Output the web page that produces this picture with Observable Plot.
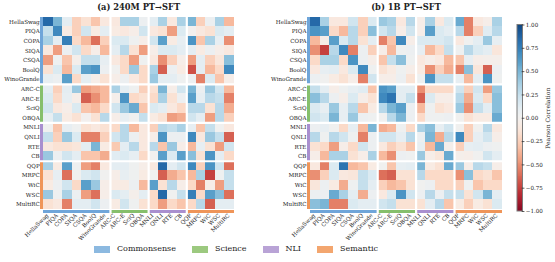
<!DOCTYPE html>
<html><head><meta charset="utf-8">
<script src="https://cdn.jsdelivr.net/npm/d3@7"></script>
<script src="https://cdn.jsdelivr.net/npm/@observablehq/plot@0.6"></script>
<style>
body{margin:0;background:#fff;}
#wrap{position:relative;width:555px;height:262px;overflow:hidden;font-family:"DejaVu Serif",serif;color:#222;}
#wrap svg{position:absolute;left:0;top:0;background:transparent;overflow:visible;}
.ttl{position:absolute;top:2px;font-weight:bold;font-size:8.3px;line-height:10px;transform:translateX(-50%);white-space:nowrap;}
#legend{position:absolute;left:94px;top:244px;display:flex;gap:16px;font-size:8px;line-height:10px;}
#legend .it{display:flex;align-items:center;}
#legend .sw{width:16px;height:7px;margin-right:7px;}
</style></head>
<body><div id="wrap"></div>
<script>
const tasks = ["HellaSwag","PIQA","COPA","SIQA","CSQA","BoolQ","WinoGrande","ARC-C","ARC-E","SciQ","OBQA","MNLI","QNLI","RTE","CB","QQP","MRPC","WiC","WSC","MultiRC"];
const groups = ["Commonsense","Science","NLI","Semantic"];
const taskGroup = [0,0,0,0,0,0,0,1,1,1,1,2,2,2,2,3,3,3,3,3];
const groupColors = ["#8cb9e0","#9cc97f","#b9a3d6","#f3a66f"];
const stripColors = ["#6fa5d9","#86bf6c","#a98fcf","#ef9559"];
const panelTitles = ["(a) 240M PT\u2192SFT","(b) 1B PT\u2192SFT"];
const cbTicks = [1,0.75,0.5,0.25,0,-0.25,-0.5,-0.75,-1];
const cbLabel = "Pearson Correlation";

const corr240M = [
[0.85,0.5,0.1,-0.25,-0.15,-0.3,-0.1,-0.1,0.35,0.35,0.05,0.1,0.35,-0.1,0.35,0.5,-0.25,0.05,0.35,-0.35],
[0.25,0.7,-0.08,-0.25,0.2,-0.08,0.1,-0.08,-0.1,-0.05,0.2,-0.1,-0.15,-0.45,0.15,0.0,-0.1,-0.15,0.15,0.1],
[0.35,0.1,0.75,-0.2,-0.35,-0.6,-0.25,0.15,0.15,0.03,-0.05,0.2,0.6,-0.08,0.08,0.65,-0.3,0.35,0.08,-0.5],
[-0.1,-0.45,0.05,0.2,-0.2,-0.05,-0.35,0.1,0.3,-0.15,-0.45,-0.05,0.15,0.15,0.1,0.1,-0.08,0.05,-0.05,-0.1],
[-0.45,0.03,-0.3,-0.03,0.25,0.25,0.08,-0.1,-0.2,-0.45,0.03,-0.1,-0.5,-0.25,-0.05,-0.45,0.1,-0.25,-0.12,0.45],
[-0.15,0.15,-0.35,0.15,0.6,0.65,0.05,0.02,-0.2,0.4,-0.2,0.35,-0.65,0.05,-0.08,-0.7,0.1,-0.35,-0.2,0.7],
[0.08,0.05,0.6,-0.2,0.1,-0.05,-0.15,-0.05,0.05,-0.1,-0.2,0.4,0.1,0.1,0.03,0.05,-0.55,0.15,-0.3,-0.05],
[0.1,-0.25,0.1,0.4,-0.45,-0.4,-0.35,0.35,0.1,0.03,-0.25,-0.15,0.5,-0.05,0.2,0.5,0.05,0.4,0.2,-0.35],
[0.15,-0.2,0.08,-0.05,-0.65,-0.5,-0.35,-0.03,0.65,-0.2,-0.15,-0.2,0.35,-0.15,0.05,0.6,0.08,0.3,0.25,-0.55],
[0.2,-0.1,-0.05,0.15,-0.3,-0.35,-0.2,0.2,0.4,0.55,-0.3,0.15,0.1,-0.1,-0.2,0.3,0.3,-0.15,0.3,-0.4],
[0.08,0.25,-0.08,-0.15,0.0,-0.15,0.3,-0.05,0.08,0.02,0.25,-0.08,-0.15,-0.45,-0.4,0.2,0.1,-0.45,0.3,-0.25],
[0.02,-0.3,0.08,0.03,-0.15,-0.1,-0.15,-0.2,0.3,-0.35,-0.1,-0.25,0.3,0.25,0.35,0.08,-0.3,0.25,0.02,-0.1],
[0.25,-0.25,0.4,0.15,-0.55,-0.55,-0.25,0.2,0.3,0.05,-0.1,-0.05,0.65,0.05,0.05,0.7,-0.1,0.4,0.25,-0.65],
[-0.1,-0.15,-0.15,-0.12,0.1,0.5,-0.08,-0.28,0.1,0.3,-0.1,0.3,-0.3,0.4,-0.05,-0.35,0.08,-0.15,-0.45,0.2],
[0.4,0.05,0.2,0.1,-0.3,-0.3,-0.4,0.12,0.15,0.08,-0.2,0.02,0.6,0.15,0.6,0.45,-0.15,0.65,0.1,-0.2],
[0.35,-0.08,0.6,0.03,-0.45,-0.55,-0.1,0.1,0.1,0.03,-0.05,-0.1,0.85,0.1,0.2,0.7,-0.25,0.65,0.2,-0.6],
[-0.15,0.08,-0.6,0.02,0.15,0.2,0.02,-0.05,0.08,0.03,-0.08,0.02,-0.65,-0.4,-0.3,-0.35,0.35,-0.75,0.03,0.25],
[-0.08,0.05,0.2,-0.2,0.6,0.4,-0.05,-0.08,-0.08,0.05,-0.35,0.6,-0.15,0.3,-0.05,-0.2,-0.55,-0.05,-0.45,0.25],
[0.4,0.03,0.35,0.05,-0.45,-0.6,-0.05,0.15,0.1,-0.03,0.1,-0.2,0.85,0.02,0.25,0.75,-0.2,0.6,0.45,-0.6],
[-0.15,-0.1,-0.55,0.1,0.1,0.2,0.05,-0.08,0.2,0.03,-0.15,-0.2,-0.45,-0.2,-0.3,-0.2,0.3,-0.65,0.1,0.1]
];
const corr1B = [
[0.85,0.35,-0.1,-0.1,0.2,-0.25,0.15,0.4,0.35,-0.1,0.3,-0.05,0.35,-0.1,0.15,0.55,-0.55,-0.1,-0.05,0.35],
[0.65,0.6,-0.2,-0.35,0.3,-0.25,0.45,0.2,0.3,-0.05,0.2,-0.05,0.6,0.15,0.1,0.3,-0.55,-0.25,0.12,0.3],
[-0.35,-0.05,0.6,0.15,0.3,-0.15,0.1,-0.55,-0.3,0.7,-0.05,0.15,0.15,0.15,0.2,-0.1,0.02,0.1,0.4,0.08],
[-0.5,-0.75,0.3,0.7,-0.55,0.05,-0.25,-0.05,-0.35,0.03,0.05,0.08,-0.35,-0.2,0.25,0.03,0.3,0.15,0.1,-0.12],
[-0.2,0.35,0.35,-0.2,0.65,0.05,-0.05,-0.3,0.25,0.45,0.03,-0.1,-0.05,-0.1,-0.35,-0.3,0.08,-0.05,-0.03,-0.03],
[-0.1,0.08,0.1,-0.1,0.15,0.7,0.03,-0.15,-0.08,0.03,-0.05,-0.08,-0.5,-0.25,-0.4,-0.55,0.45,-0.12,-0.65,0.05],
[0.05,0.02,-0.08,-0.15,-0.05,-0.55,0.2,-0.05,-0.05,0.05,-0.15,0.03,0.65,0.25,0.25,0.08,-0.35,0.1,0.65,0.03],
[0.25,0.1,-0.05,0.03,0.08,0.12,-0.3,0.65,0.6,0.1,0.1,-0.5,-0.2,-0.2,-0.2,0.2,-0.25,0.2,-0.45,0.4],
[0.45,0.3,0.05,-0.05,0.15,-0.05,-0.15,0.7,0.8,0.1,0.25,-0.65,0.15,-0.05,-0.05,0.3,-0.4,0.15,-0.2,0.45],
[0.15,0.08,0.4,0.08,0.3,-0.3,-0.08,0.3,0.5,0.6,0.05,-0.35,0.03,-0.15,-0.1,0.4,-0.5,0.25,0.1,0.45],
[0.2,0.15,0.5,0.08,0.4,0.05,0.03,0.02,0.3,0.5,0.05,-0.2,0.03,0.03,0.05,0.02,-0.15,-0.08,-0.08,0.55],
[0.05,0.08,0.02,-0.2,0.08,-0.35,0.5,-0.4,-0.35,0.03,-0.2,0.35,0.45,0.08,0.2,0.02,-0.25,0.02,0.3,-0.1],
[0.3,0.03,0.3,0.2,0.03,-0.55,0.05,0.2,0.2,0.08,0.3,0.05,0.5,-0.4,0.3,0.7,-0.25,0.08,0.2,-0.05],
[-0.15,-0.2,-0.45,-0.05,-0.2,0.2,0.05,-0.1,-0.25,-0.15,-0.3,0.08,-0.35,0.55,-0.03,-0.25,0.08,0.1,0.05,0.03],
[-0.05,-0.35,0.35,0.35,-0.15,-0.05,0.35,-0.35,-0.5,0.05,0.03,0.4,-0.05,-0.12,0.55,-0.03,-0.05,0.02,0.2,0.1],
[-0.1,-0.55,0.15,0.8,-0.35,-0.3,-0.08,0.02,-0.3,0.08,0.1,0.5,-0.08,-0.15,0.55,0.4,-0.05,0.3,0.25,-0.05],
[-0.5,-0.25,0.15,-0.1,-0.12,0.25,0.15,-0.6,-0.65,-0.15,-0.15,0.3,-0.2,-0.2,-0.2,-0.5,0.45,-0.2,-0.15,-0.3],
[-0.12,0.05,-0.08,-0.4,0.03,0.25,0.1,-0.25,-0.35,-0.3,-0.15,0.02,0.05,-0.2,-0.2,-0.25,0.03,-0.3,-0.2,-0.2],
[0.05,0.05,0.55,0.35,0.1,-0.4,0.05,-0.1,0.15,0.65,0.2,0.05,0.3,0.05,0.25,0.25,-0.15,0.2,0.5,0.1],
[0.45,0.5,-0.55,-0.55,0.15,0.1,0.1,0.2,0.25,-0.15,-0.15,-0.15,0.1,0.3,-0.3,-0.08,-0.25,-0.08,-0.15,0.15]
];

const FONT = "DejaVu Serif";
const N = tasks.length;
const colorScale = {type: "linear", domain: [-1, 1], interpolate: t => d3.interpolateRdBu(0.04 + 0.92 * t)};
const Y_RANGE = [16.6, 208.8];
const wrap = document.getElementById("wrap");
// group boundaries (index where a new group starts)
const bounds = taskGroup.map((g, i) => i).filter(i => i > 0 && taskGroup[i] !== taskGroup[i - 1]);

function panel(values, xRange) {
  const cells = values.flatMap((row, i) => row.map((v, j) => ({i, j, v})));
  const idx = tasks.map((_, i) => i);
  const strips = groups.flatMap((g, gi) => {
    const members = idx.filter(i => taskGroup[i] === gi);
    return [
      Plot.rect(members, {x1: () => -0.34, x2: () => -0.04, y1: i => i, y2: i => i + 1, fill: stripColors[gi], shapeRendering: "crispEdges"}),
      Plot.rect(members, {x1: i => i, x2: i => i + 1, y1: () => N + 0.1, y2: () => N + 0.42, fill: stripColors[gi], shapeRendering: "crispEdges"})
    ];
  });
  return Plot.plot({
    width: 555, height: 262,
    margin: 0,
    style: {background: "transparent", fontFamily: FONT},
    x: {type: "linear", domain: [0, N], range: xRange, axis: null},
    y: {type: "linear", domain: [0, N], range: Y_RANGE, axis: null},
    color: colorScale,
    marks: [
      Plot.rect(cells, {x1: d => d.j, x2: d => d.j + 1, y1: d => d.i, y2: d => d.i + 1, fill: "v", shapeRendering: "crispEdges"}),
      ...strips,
      Plot.ruleX(bounds, {x: d => d, y1: () => 0, y2: () => N + 0.45, stroke: "white", strokeWidth: 2.2}),
      Plot.ruleY(bounds, {y: d => d, x1: () => -0.4, x2: () => N, stroke: "white", strokeWidth: 2.2}),
      Plot.text(tasks, {x: () => -0.42, y: (d, i) => i + 0.5, text: d => d, textAnchor: "end", fontSize: 5.6, fontFamily: FONT, fill: "#222"}),
      Plot.text(tasks, {x: (d, i) => i + 0.4, y: () => N + 0.55, text: d => d, textAnchor: "end", rotate: -45, fontSize: 5.6, fontFamily: FONT, fill: "#222"})
    ]
  });
}

wrap.appendChild(panel(corr240M, [43.2, 234]));
wrap.appendChild(panel(corr1B, [310, 502]));

// colorbar
const steps = d3.range(-1, 1, 0.01);
const cb = Plot.plot({
  width: 555, height: 262, margin: 0,
  style: {background: "transparent", fontFamily: FONT},
  x: {type: "linear", domain: [0, 1], range: [517, 522.5], axis: null},
  y: {type: "linear", domain: [-1, 1], range: [211, 24.5], axis: null},
  color: colorScale,
  marks: [
    Plot.rect(steps, {x1: () => 0, x2: () => 1, y1: d => d, y2: d => Math.min(1, d + 0.0105), fill: d => d + 0.005, shapeRendering: "crispEdges"}),
    Plot.rect([0], {x1: () => 0, x2: () => 1, y1: () => -1, y2: () => 1, fill: "none", stroke: "#7a7a7a", strokeWidth: 1}),
    Plot.ruleY(cbTicks, {x1: () => 0.85, x2: () => 1.35, stroke: "#333", strokeWidth: 0.8}),
    Plot.text(cbTicks, {x: () => 1.5, y: d => d, text: d => d3.format(".2f")(d), textAnchor: "start", fontSize: 5.6, fontFamily: FONT, fill: "#222"}),
    Plot.text([cbLabel], {x: () => 5.6, y: () => 0, text: d => d, rotate: -90, fontSize: 6, fontFamily: FONT, fill: "#222"})
  ]
});
wrap.appendChild(cb);

// titles
[[panelTitles[0], 138.6], [panelTitles[1], 406]].forEach(([t, x]) => {
  const d = document.createElement("div");
  d.className = "ttl"; d.style.left = x + "px"; d.textContent = t;
  wrap.appendChild(d);
});

// legend
const lg = document.createElement("div");
lg.id = "legend";
groups.forEach((g, gi) => {
  const it = document.createElement("div"); it.className = "it";
  const sw = document.createElement("div"); sw.className = "sw"; sw.style.background = groupColors[gi];
  const tx = document.createElement("span"); tx.textContent = g;
  it.appendChild(sw); it.appendChild(tx); lg.appendChild(it);
});
wrap.appendChild(lg);
</script></body></html>
